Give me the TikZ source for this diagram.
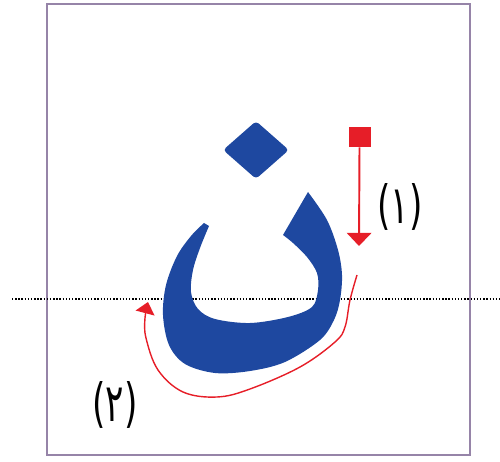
\documentclass[tikz,border=0pt]{standalone}
\usepackage{fontspec}
\newfontfamily\arabicfont[Script=Arabic]{DejaVu Sans}
\TeXXeTstate=1
\usetikzlibrary{shapes.geometric, arrows.meta}
\definecolor{nunblue}{RGB}{30,72,160}
\definecolor{markred}{RGB}{230,30,40}
\definecolor{framegray}{RGB}{150,132,168}

\begin{document}
\begin{tikzpicture}[
  x=0.02cm, y=-0.02cm,
  frame/.style={draw=framegray, line width=1pt},
  writeline/.style={densely dotted, black, line width=0.8pt},
  letter/.style={fill=nunblue},
  dotshape/.style={diamond, fill=nunblue, inner sep=0pt,
    minimum width=1.32cm, minimum height=1.16cm, rounded corners=2pt},
  startmark/.style={rectangle, fill=markred, inner sep=0pt,
    minimum width=0.44cm, minimum height=0.4cm},
  arr/.style={-{Triangle[width=14pt,length=7.5pt]}, markred, line width=1.1pt},
  curvearr/.style={-{Triangle[width=11pt,length=6.5pt]}, markred, line width=0.8pt},
  numlabel/.style={font=\fontsize{30}{36}\arabicfont, xscale=0.65, inner sep=0pt}
]
\useasboundingbox (0,0) rectangle (500,462);

% ===== FRAME AND BASELINE =====
\draw[frame] (47,4) rectangle (470,455);
\coordinate (lineL) at (12,299);
\coordinate (lineR) at (500,299);
\draw[writeline] (lineL) -- (lineR);

% ===== LETTER NUN =====
\fill[letter] plot[smooth, tension=0.55] coordinates {(308,192) (327,220) (338,250)
    (342,275) (340,300) (334,320) (320,340) (285,362) (250,371) (215,373) (185,364)
    (169,345) (163,315) (166,285) (177,256) (191,236) (204,223)}
  -- plot[smooth, tension=0.55] coordinates {(209,226) (200,248) (193,270) (191,292)
    (198,309) (215,319) (250,323) (288,317) (312,307) (318,290) (317,273) (307,257)
    (293,243) (283,235)}
  -- cycle;
\node[dotshape] (dot) at (256,150) {};

% ===== STEP 1 =====
\node[startmark] (sq) at (359.5,137) {};
\coordinate (tip1) at (359,246);
\draw[arr] (sq.south) -- (tip1);
\node[numlabel] (lab1) at (400,207) {\beginR(١)\endR};

% ===== STEP 2 =====
\coordinate (c2s) at (357,275);
\coordinate (c2e) at (148,302);
\draw[curvearr] plot[smooth, tension=0.6] coordinates {(c2s) (350,300) (345,327)
  (335,342) (300,367) (250,389) (217,397) (183,392) (158,370) (146,338) (145,318) (c2e)};
\node[numlabel] (lab2) at (115,405) {\beginR(٢)\endR};
\end{tikzpicture}
\end{document}
